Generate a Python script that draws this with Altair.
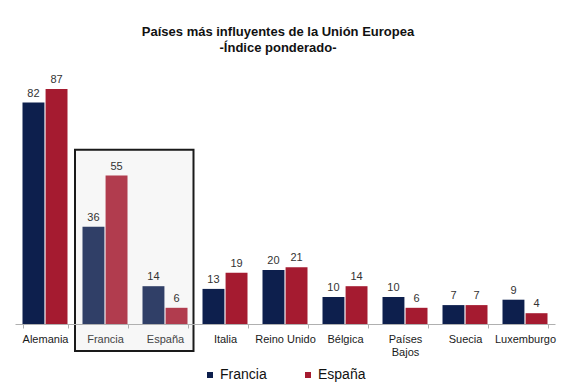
import altair as alt
import pandas as pd

paises = ["Alemania", "Francia", "España", "Italia", "Reino Unido", "Bélgica",
          "Países Bajos", "Suecia", "Luxemburgo"]
francia = [82, 36, 14, 13, 20, 10, 10, 7, 9]
espana = [87, 55, 6, 19, 21, 14, 6, 7, 4]
series = ["Francia", "España"]
colores = ["#0d1f4d", "#a51b30"]
destacados = ["Francia", "España"]

rows = []
for i, p in enumerate(paises):
    rows.append({"pais": p, "serie": "Francia", "valor": francia[i]})
    rows.append({"pais": p, "serie": "España", "valor": espana[i]})
df = pd.DataFrame(rows)
df["destacado"] = df["pais"].isin(destacados)

caja = pd.DataFrame({"desde": [destacados[0]], "hasta": [destacados[-1]],
                     "arriba": [64.5], "abajo": [-10]})

FONT = "Liberation Sans"

xscale = alt.Scale(domain=paises, paddingInner=0.25, paddingOuter=0.125)
yscale = alt.Scale(domain=[0, 100])

x_axis = alt.Axis(title=None, labelAngle=0, tickBand="extent",
                  domainColor="#b0b0b0", tickColor="#b0b0b0", tickSize=4,
                  labelFont=FONT, labelFontSize=11,
                  labelColor={"condition": {"test": "datum.label == 'Francia' || datum.label == 'España'",
                                            "value": "#444444"},
                              "value": "#1a1a1a"},
                  labelPadding=5, labelLineHeight=13,
                  labelExpr="datum.label == 'Países Bajos' ? ['Países', 'Bajos'] : datum.label")

box = alt.Chart(caja).mark_rect(
    fill="#f7f7f7", stroke="#1a1a1a", strokeWidth=2, xOffset=-7.5, x2Offset=6
).encode(
    x=alt.X("desde:N", scale=xscale, bandPosition=0, axis=x_axis),
    x2=alt.X2("hasta:N", bandPosition=1),
    y=alt.Y("arriba:Q", scale=yscale, axis=None),
    y2="abajo:Q",
)

base = alt.Chart(df).encode(
    x=alt.X("pais:N", scale=xscale, axis=x_axis),
    xOffset=alt.XOffset("serie:N", scale=alt.Scale(domain=series, paddingInner=0.05)),
    y=alt.Y("valor:Q", scale=yscale, axis=None),
)

bars = base.mark_bar().encode(
    color=alt.Color("serie:N", scale=alt.Scale(domain=series, range=colores),
                    legend=alt.Legend(title=None, orient="none", direction="horizontal",
                                      legendX=188, legendY=314, symbolType="square",
                                      symbolSize=36, labelFont=FONT, labelFontSize=14,
                                      labelColor="#111", columnPadding=34, labelOffset=3)),
    opacity=alt.condition("datum.destacado", alt.value(0.85), alt.value(1)),
)

labels = base.mark_text(dy=-9, font=FONT, fontSize=11, color="#333").encode(
    text=alt.Text("valor:Q")
)

chart = alt.layer(box, bars, labels).properties(
    width=540, height=270,
    autosize=alt.AutoSizeParams(type="none"),
    padding={"left": 7, "top": 46, "right": 17, "bottom": 63},
    title=alt.Title(["Países más influyentes de la Unión Europea", "-Índice ponderado-"],
                    font=FONT, fontSize=13, fontWeight="bold", color="#111",
                    anchor="middle", dx=-7, dy=9, offset=8, lineHeight=16),
).configure_view(stroke=None)

chart.save("out.html", embed_options={"renderer": "svg", "actions": False})
